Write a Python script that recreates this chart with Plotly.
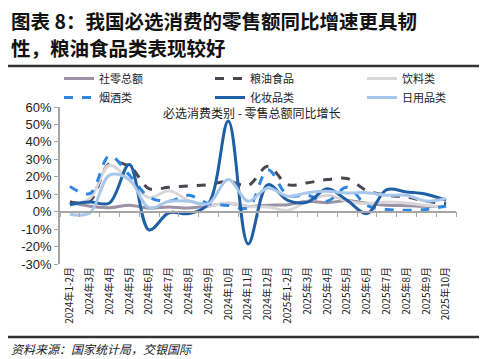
import plotly.graph_objects as go

categories = ['2024年1-2月', '2024年3月', '2024年4月', '2024年5月', '2024年6月', '2024年7月',
              '2024年8月', '2024年9月', '2024年10月', '2024年11月', '2024年12月',
              '2025年1-2月', '2025年3月', '2025年4月', '2025年5月', '2025年6月', '2025年7月',
              '2025年8月', '2025年9月', '2025年10月']

retail_total = [5.5, 3.1, 2.3, 3.7, 2.0, 2.7, 2.1, 3.2, 4.8, 3.0, 3.7, 4.0, 5.9, 5.1, 6.4, 4.8, 3.7, 3.4, 3.0, 2.9]
grain_oil = [5.5, 6.0, 27.5, 26.0, 13.2, 14.0, 14.7, 15.5, 17.4, 15.0, 26.0, 15.5, 16.6, 18.4, 19.0, 12.0, 9.4, 8.4, 6.0, 4.6]
beverage = [4.0, 7.5, 26.6, 18.0, 8.0, 12.0, 6.5, 3.6, 5.0, 3.0, 2.7, 0.8, 6.0, 9.4, 6.0, 4.6, 5.5, 5.0, 3.6, 2.7]
tobacco_alcohol = [14.5, 10.3, 32.0, 21.0, 8.4, 6.0, 9.4, 4.6, 3.6, 2.3, 24.0, 9.4, 9.4, 6.0, 14.0, 3.6, 1.3, 0.8, 1.3, 3.2]
cosmetics = [4.0, 5.5, 5.0, 27.0, -10.5, -0.6, -1.1, 4.6, 52.0, -18.5, 15.5, 6.5, 5.5, 13.2, 6.5, -1.1, 12.6, 11.3, 10.0, 6.5]
daily_goods = [-1.5, -0.8, 21.0, 18.5, 2.2, 6.0, 6.0, 4.6, 18.4, 6.0, 13.6, 8.8, 10.9, 11.7, 10.7, 10.9, 9.4, 9.4, 6.0, 7.5]

y_ticks = [-30, -20, -10, 0, 10, 20, 30, 40, 50, 60]
y_tick_labels = ['-30%', '-20%', '-10%', '0%', '10%', '20%', '30%', '40%', '50%', '60%']

# name, values, colour, dash, legend column
series = [
    ('社零总额', retail_total, '#9b93a3', 'solid', 'legend'),
    ('粮油食品', grain_oil, '#4a4550', 'dash', 'legend2'),
    ('饮料类', beverage, '#d9d6db', 'solid', 'legend3'),
    ('烟酒类', tobacco_alcohol, '#2f86e0', 'dash', 'legend'),
    ('化妆品类', cosmetics, '#1f5fa6', 'solid', 'legend2'),
    ('日用品类', daily_goods, '#a7c8ea', 'solid', 'legend3'),
]

CJK = 'Noto Sans CJK SC'
OFF = 8  # page body margin
W, H = 487 - OFF, 359 - OFF
L, T = 60 - OFF, 107 - OFF
R = W - (456 - OFF)
B = H - (264 - OFF)
pw, ph = W - L - R, H - T - B

def px(xp):
    return (xp - OFF - L) / pw

def py(yp):
    return (H - B - (yp - OFF)) / ph

fig = go.Figure()
for name, vals, color, dash, leg in series:
    fig.add_trace(go.Scatter(
        x=categories, y=vals, name=name, mode='lines', legend=leg,
        line=dict(color=color, width=3, dash=dash, shape='spline', smoothing=1.0),
    ))
# helper trace to carry the zero-line category axis
fig.add_trace(go.Scatter(x=categories, y=[None] * len(categories), xaxis='x2',
                         showlegend=False, hoverinfo='skip', mode='lines'))

def legend_at(xtext):
    return dict(orientation='v', x=px(xtext - 40), y=py(64), xanchor='left', yanchor='top',
                font=dict(size=11, family=CJK, color='#222'), bgcolor='rgba(0,0,0,0)',
                borderwidth=0)

fig.update_layout(
    width=W, height=H,
    margin=dict(l=L, r=R, t=T, b=B, autoexpand=False),
    paper_bgcolor='white', plot_bgcolor='white',
    font=dict(family=CJK, size=11, color='#222'),
    showlegend=True,
    legend=legend_at(99),
    legend2=legend_at(250),
    legend3=legend_at(402),
    xaxis=dict(type='category', categoryorder='array', categoryarray=categories,
               range=[-0.5, len(categories) - 0.5], showline=False, ticks='',
               showgrid=False, zeroline=False, tickangle=-90,
               tickfont=dict(size=10, family=CJK, color='#222')),
    xaxis2=dict(type='category', categoryorder='array', categoryarray=categories,
                overlaying='x', anchor='free', position=1 / 3,
                range=[-0.5, len(categories) - 0.5], showline=True, linecolor='#a6a6a6',
                linewidth=1.5, ticks='outside', tickson='boundaries', ticklen=5,
                tickcolor='#a6a6a6', showticklabels=False, showgrid=False, zeroline=False),
    yaxis=dict(range=[-30, 60], tickmode='array', tickvals=y_ticks, ticktext=y_tick_labels,
               showline=True, linecolor='#a6a6a6', linewidth=1.5, ticks='outside',
               ticklen=4, tickcolor='#a6a6a6', showgrid=False, zeroline=False,
               tickfont=dict(size=13, family='Liberation Sans', color='#222')),
)

annotations = [
    dict(text='<b>图表 8：我国必选消费的零售额同比增速更具韧</b>', x=px(9), y=py(21),
         font=dict(size=19.5, family=CJK, color='#111')),
    dict(text='<b>性，粮油食品类表现较好</b>', x=px(9), y=py(47),
         font=dict(size=19.5, family=CJK, color='#111')),
    dict(text='必选消费类别 - 零售总额同比增长', x=px(252), y=py(112), xanchor='center',
         font=dict(size=12, family=CJK, color='#222')),
    dict(text='<i>资料来源：国家统计局，交银国际</i>', x=px(9), y=py(348),
         font=dict(size=12, family=CJK, color='#222')),
]
for a in annotations:
    a.setdefault('xanchor', 'left')
    fig.add_annotation(xref='paper', yref='paper', yanchor='middle', showarrow=False, **a)

fig.add_shape(type='line', xref='paper', yref='paper', x0=px(8), x1=px(480),
              y0=py(66), y1=py(66), line=dict(color='#333', width=2.5))
fig.add_shape(type='line', xref='paper', yref='paper', x0=px(8), x1=px(480),
              y0=py(337), y1=py(337), line=dict(color='#333', width=2.5))

fig.write_html('out.html')
